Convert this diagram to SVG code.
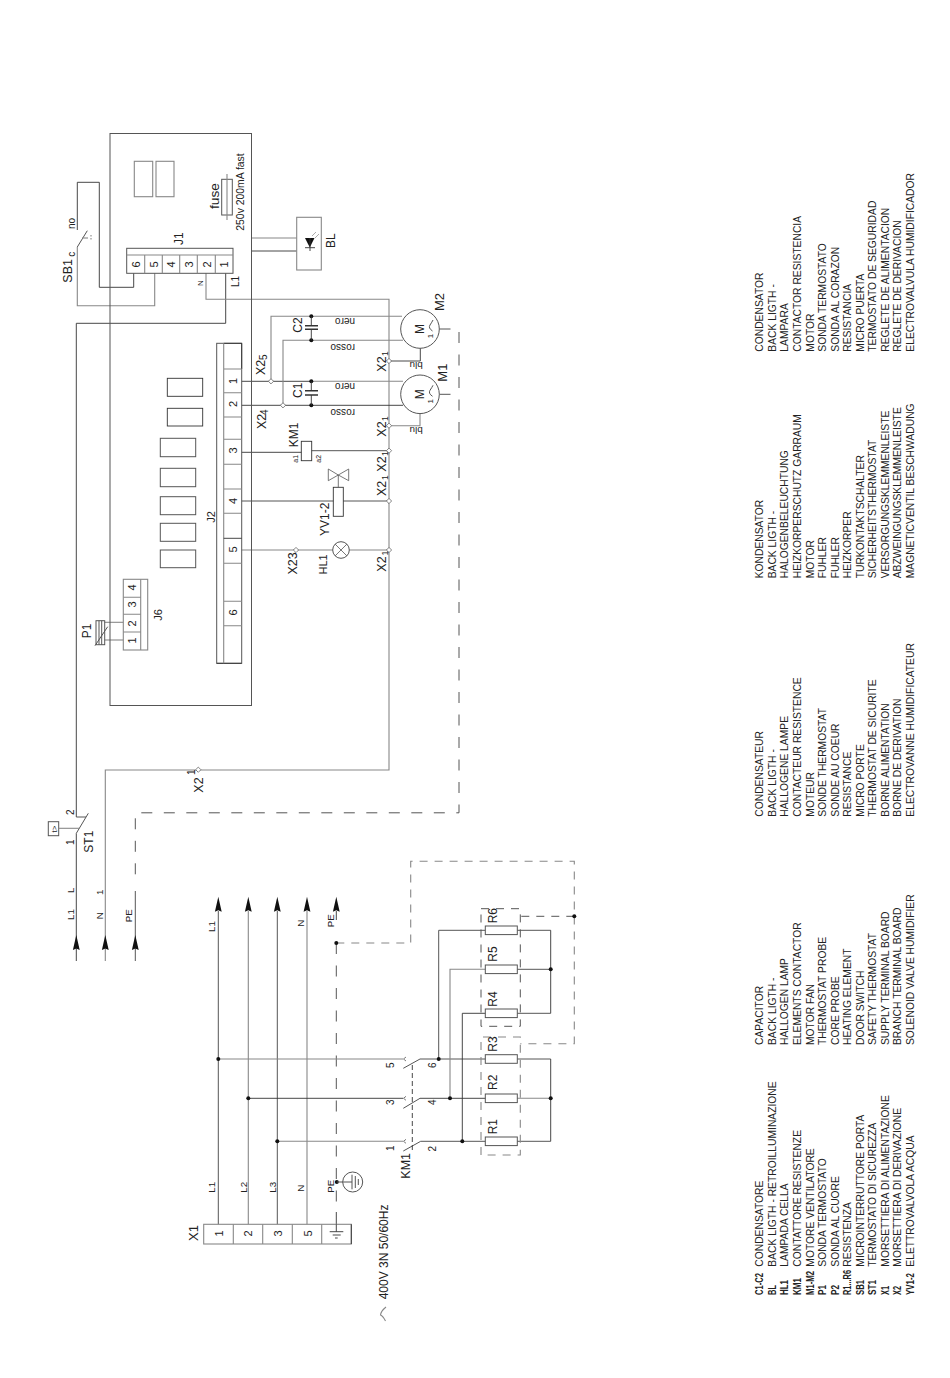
<svg xmlns="http://www.w3.org/2000/svg" width="950" height="1378" viewBox="0 0 950 1378">
<style>
text{font-family:"Liberation Sans",Arial,sans-serif;fill:#222}
.t7{font-size:7px}.t8{font-size:8px}.t85{font-size:8.5px}.t9{font-size:10px}.t95{font-size:9.8px}.t10{font-size:10px}.t11{font-size:11px}.t12{font-size:12px}.t125{font-size:12.5px}.t13{font-size:13px}
.lg{font-size:10.3px;fill:#333}.b{font-size:10px;font-weight:bold;fill:#111}
path,rect,circle,line,polyline{fill:none;stroke:#555;stroke-width:1}
.d{stroke:#333;stroke-width:.9}.g{stroke:#888;stroke-width:1.1}
.dash{stroke-dasharray:11 11.5}.ds{stroke-dasharray:8 7}
.dot{fill:#111;stroke:none}.tip{fill:#111;stroke:none}.hx{fill:#fff;stroke:#666;stroke-width:.8}
</style>
<defs>
<path id="arrow" class="tip" d="M0 0L3.4 15L0 13.5L-3.4 15Z"/>
<path id="hub" class="hx" d="M0 -2.6L2.6 0L0 2.6L-2.6 0Z"/>
<circle id="dt" class="dot" r="2"/>
</defs>

<g id="connectors">
<path class="d" d="M133.7 273.3V287.3H99.3V182.3H77.3V230"/>
<path class="g" d="M77.3 247V305.7H154.7V273.3"/>
<path class="d" d="M225.7 273.3V323.3H76.3V817"/>
<path class="d" d="M76.3 833.3V961"/>
<path class="g" d="M206 273.3V299.3H389V770H105.3V961"/>
<path class="g" d="M251 238H296.7"/>
<path class="d" d="M251 251H296.7"/>
<path class="d" d="M241.7 381.3H311"/><path class="g" d="M311 381.3H403"/>
<path class="d" d="M241.7 405.3H403"/>
<path class="g" d="M271 381.3V316.3H402"/>
<path class="g" d="M283 405.3V340.3H403"/>
<path class="d" d="M389 361H420.3V348.3"/>
<path class="g" d="M389 425.7H420V413.7"/>
<path class="d" d="M241.7 452.3H301.3"/>
<path d="M311.7 450.7H389"/>
<path d="M241.7 501H333.3"/><path d="M343.3 501H389"/>
<path class="g" d="M241.7 550H332.7"/><path class="g" d="M349.3 550H389"/>
<path class="g" d="M104.7 622.3H123.3"/><path class="g" d="M104.7 640H123.3"/>
<path class="dash" d="M439.5 329H459V812.8H135.3V880"/>
<path class="dash" d="M439.5 394.3H459"/>
<path d="M135.3 891V961"/>
<path d="M218.3 911V1224.3"/><path class="g" d="M248.3 911V1224.3"/><path d="M277.3 911V1224.3"/><path class="g" d="M307 911V1224.3"/>
<path class="d" d="M336.3 911V920"/><path class="dash" d="M336.3 943V1212"/><path class="d" d="M336.3 1212V1224.3"/>
<path class="g ds" d="M336.3 943H410.7V861.3H574.3V1043.7H520.3"/>
<path class="ds" d="M574.3 916.3H520.3"/>
<path class="g" d="M218.3 1059H403"/>
<path class="d" d="M248.3 1098.3H403"/>
<path class="g" d="M277.3 1141.3H403"/>
<path d="M420 1059H485.3"/><path class="d" d="M420 1098.3H485.3"/><path d="M420.7 1141.3H485.3"/>
<path d="M438.7 1059V930.3H485.3"/>
<path class="g" d="M450 1098.3V969.3H485.3"/>
<path class="d" d="M462.3 1141.3V1013.3H485.3"/>
<path d="M517.3 930.3H550.7"/><path d="M517.3 969.3H550.7"/><path d="M517.3 1013.3H550.7"/>
<path d="M517.3 1059H550.7"/><path class="g" d="M517.3 1098.3H550.7"/><path d="M517.3 1141.3H550.7"/>
<path class="d" d="M550.7 930.3V1013.3"/><path class="d" d="M550.7 1059V1141.3"/>
<use href="#hub" x="271" y="381.3"/><use href="#hub" x="283" y="405.3"/>
<use href="#hub" x="389" y="361"/><use href="#hub" x="389" y="425.7"/><use href="#hub" x="389" y="450.7"/><use href="#hub" x="389" y="501"/><use href="#hub" x="389" y="550"/>
<use href="#hub" x="296" y="550"/><use href="#hub" x="198.3" y="769.7"/>
<use href="#dt" x="311.3" y="316.3"/><use href="#dt" x="311.3" y="340.3"/><use href="#dt" x="311.3" y="381.3"/><use href="#dt" x="311.3" y="405.3"/>
<use href="#dt" x="218.3" y="1059"/><use href="#dt" x="248.3" y="1098.3"/><use href="#dt" x="277.3" y="1141.3"/>
<use href="#dt" x="438.7" y="1059"/><use href="#dt" x="450" y="1098.3"/><use href="#dt" x="462.3" y="1141.3"/>
<use href="#dt" x="550.7" y="969.3"/><use href="#dt" x="550.7" y="1098.3"/>
<use href="#dt" x="336.3" y="943"/><use href="#dt" x="336.8" y="1182"/><use href="#dt" x="574.3" y="916.3"/>
<use href="#arrow" x="76.3" y="935"/><use href="#arrow" x="105.3" y="935"/><use href="#arrow" x="135.3" y="935"/>
<use href="#arrow" x="218.3" y="896.7"/><use href="#arrow" x="248.3" y="896.7"/><use href="#arrow" x="277.3" y="896.7"/><use href="#arrow" x="307" y="896.7"/><use href="#arrow" x="336.3" y="896.7"/>
</g>

<g id="board">
<rect x="110" y="133.5" width="141.5" height="572"/>
<rect x="134.3" y="161.3" width="18.4" height="35.4" class="g"/>
<rect x="156" y="161.3" width="18" height="35.4" class="g"/>
<rect x="167.3" y="378.3" width="35.4" height="18" class="d"/><rect x="167.3" y="408.3" width="35.4" height="17.7" class="d"/>
<rect x="160.3" y="438.3" width="35.4" height="18.4"/><rect x="160.3" y="468.3" width="35.4" height="18.4"/><rect x="160.3" y="496.7" width="35.4" height="18"/><rect x="160.3" y="523.3" width="35.4" height="18"/><rect x="160.3" y="550" width="35.4" height="17.7"/>
</g>

<g id="fuse">
<rect x="221.7" y="179.3" width="10.6" height="35.7"/>
<path class="g" d="M227 174V220"/>
<text class="t13" style="font-size:13.7px" transform="translate(218.7,209) rotate(-90)">fuse</text>
<text style="font-size:10.4px" transform="translate(244,230.7) rotate(-90)">250v 200mA fast</text>
</g>

<g id="J1">
<rect x="126.7" y="248.3" width="106.3" height="25"/>
<path class="g" d="M126.7 255H233M144.7 255V273.3M162.3 255V273.3M179.7 255V273.3M197.3 255V273.3M215.3 255V273.3"/>
<g class="t11" text-anchor="middle">
<text transform="translate(140,264.5) rotate(-90)">6</text><text transform="translate(157.5,264.5) rotate(-90)">5</text><text transform="translate(175,264.5) rotate(-90)">4</text><text transform="translate(193,264.5) rotate(-90)">3</text><text transform="translate(210.5,264.5) rotate(-90)">2</text><text transform="translate(228,264.5) rotate(-90)">1</text>
</g>
<text class="t12" transform="translate(183,245) rotate(-90)">J1</text>
<text class="t8" transform="translate(203,286) rotate(-90)">N</text>
<text class="t9" transform="translate(239,287) rotate(-90)">L1</text>
</g>

<g id="SB1">
<path d="M77.3 247L87.3 230.7"/><path class="g" d="M82 238H88"/><path class="g" style="stroke-dasharray:1.5 1.5" d="M91 235V241"/>
<text class="t125" transform="translate(71.5,282.7) rotate(-90)">SB1</text>
<text class="t9" transform="translate(74.5,256.7) rotate(-90)">c</text>
<text class="t9" transform="translate(75.3,229) rotate(-90)">no</text>
</g>

<g id="BL">
<rect x="296.7" y="217.3" width="24.6" height="52.7" class="g"/>
<path class="tip" d="M305 238H314.5L309.8 247.5Z"/>
<path class="d" d="M305 247.7H315"/><path class="d" d="M310 238V251"/>
<path class="g" style="stroke-width:.7" d="M312 236L316 232M315 238L319 234"/>
<text class="t12" transform="translate(334.5,248) rotate(-90)">BL</text>
</g>

<g id="J2">
<rect x="216.7" y="343.3" width="25" height="320"/>
<path class="d" d="M223.7 343.3H241.7V369"/>
<path class="d" d="M216.7 663.3H241.7"/>
<path class="g" d="M223.7 343.3V663.3M223.7 369H241.7M223.7 392.7H241.7M223.7 417H241.7M223.7 439.3H241.7M223.7 464.3H241.7M223.7 489H241.7M223.7 513.3H241.7M223.7 563.3H241.7M223.7 601.3H241.7M223.7 625.7H241.7"/>
<path class="d" d="M223.7 538.3H241.7"/>
<g class="t11" text-anchor="middle">
<text transform="translate(237,381) rotate(-90)">1</text><text transform="translate(237,404) rotate(-90)">2</text><text transform="translate(237,450.5) rotate(-90)">3</text><text transform="translate(237,501) rotate(-90)">4</text><text transform="translate(237,549.5) rotate(-90)">5</text><text transform="translate(237,612.5) rotate(-90)">6</text>
</g>
<text class="t11" transform="translate(215,522.7) rotate(-90)">J2</text>
</g>

<g id="J6">
<rect x="123.3" y="579.3" width="24.4" height="70.7" class="g"/>
<path class="g" d="M140.7 579.3V650M123.3 597.3H140.7M123.3 614.3H140.7M123.3 632H140.7"/>
<g class="t11" text-anchor="middle">
<text transform="translate(136,587.5) rotate(-90)">4</text><text transform="translate(136,604.5) rotate(-90)">3</text><text transform="translate(136,623.5) rotate(-90)">2</text><text transform="translate(136,640.5) rotate(-90)">1</text>
</g>
<text class="t11" transform="translate(162,620.7) rotate(-90)">J6</text>
</g>

<g id="P1">
<rect x="96" y="620.7" width="8.7" height="24"/>
<path d="M99 620.7V644.7M101.7 620.7V644.7M95 645.7L107.7 626.7"/>
<text class="t12" transform="translate(91,638.3) rotate(-90)">P1</text>
</g>

<g id="C2">
<path class="d" d="M311.3 316.3V325.7M311.3 329.3V340.3"/>
<path class="d" style="stroke-width:1.4" d="M305 325.7H318M305 329.3H318"/>
<text class="t12" transform="translate(301.7,332.7) rotate(-90)">C2</text>
</g>
<g id="C1">
<path class="d" d="M311.3 381.3V390.7M311.3 395V405.3"/>
<path class="d" style="stroke-width:1.4" d="M305 390.7H318M305 395H318"/>
<text class="t12" transform="translate(301.7,398) rotate(-90)">C1</text>
</g>

<g id="M2">
<circle cx="420" cy="329" r="19.3"/>
<text class="t12" text-anchor="middle" transform="translate(424.3,329) rotate(-90)">M</text>
<text class="t8" text-anchor="middle" transform="translate(433,336) rotate(-90)">1</text>
<path d="M432.5 331Q428 328 430 325T433 320"/>
<text class="t13" transform="translate(444,311) rotate(-90)">M2</text>
<text class="t10" transform="translate(355,317.8) rotate(180)">nero</text>
<text class="t10" transform="translate(355,344) rotate(180)">rosso</text>
<text class="t95" transform="translate(422.7,361.7) rotate(180)">blu</text>
</g>
<g id="M1">
<circle cx="420" cy="394.3" r="19.3"/>
<text class="t12" text-anchor="middle" transform="translate(424.3,394.3) rotate(-90)">M</text>
<text class="t8" text-anchor="middle" transform="translate(433,401.3) rotate(-90)">1</text>
<path d="M432.5 396.3Q428 393.3 430 390.3T433 385.3"/>
<text class="t13" transform="translate(446.7,381.7) rotate(-90)">M1</text>
<text class="t10" transform="translate(355,382.7) rotate(180)">nero</text>
<text class="t10" transform="translate(355,409) rotate(180)">rosso</text>
<text class="t95" transform="translate(422.7,426.7) rotate(180)">blu</text>
</g>

<g id="KM1-coil">
<rect x="301.3" y="441.3" width="10.4" height="19.4" class="d"/>
<text class="t12" transform="translate(298.3,447.3) rotate(-90)">KM1</text>
<text class="t7" transform="translate(298,462.7) rotate(-90)">a1</text>
<text class="t7" transform="translate(320.7,462.7) rotate(-90)">a2</text>
</g>

<g id="YV1-2">
<rect x="333.3" y="487.3" width="10" height="29" class="d"/>
<path style="stroke-width:.8" d="M338.3 475V487.3M338.3 475L328.3 469V480.7ZM338.3 475L348.7 469V480.7Z"/>
<text class="t12" transform="translate(329.3,536) rotate(-90)">YV1-2</text>
</g>

<g id="HL1">
<circle cx="341" cy="550" r="8.3"/>
<path style="stroke-width:.8" d="M335.1 544.1L346.9 555.9M335.1 555.9L346.9 544.1"/>
<text class="t11" transform="translate(326.7,574.5) rotate(-90)">HL1</text>
</g>

<g id="X2-labels">
<text class="t125" transform="translate(265,375) rotate(-90)">X2</text><text class="t10" transform="translate(267,360) rotate(-90)">5</text>
<text class="t125" transform="translate(266,429) rotate(-90)">X2</text><text class="t10" transform="translate(268,415) rotate(-90)">4</text>
<text class="t125" transform="translate(296.7,574.5) rotate(-90)">X23</text>
<text class="t125" transform="translate(385.5,371.7) rotate(-90)">X2</text><text class="t85" transform="translate(388,356) rotate(-90)">1</text>
<text class="t125" transform="translate(385.5,436.7) rotate(-90)">X2</text><text class="t85" transform="translate(388,421) rotate(-90)">1</text>
<text class="t125" transform="translate(385.5,471.7) rotate(-90)">X2</text><text class="t85" transform="translate(388,456) rotate(-90)">1</text>
<text class="t125" transform="translate(385.5,496) rotate(-90)">X2</text><text class="t85" transform="translate(388,480) rotate(-90)">1</text>
<text class="t125" transform="translate(385.5,571.7) rotate(-90)">X2</text><text class="t85" transform="translate(388,555.5) rotate(-90)">1</text>
<text class="t125" transform="translate(203.3,792.7) rotate(-90)">X2</text><text class="t9" transform="translate(195,775) rotate(-90)">1</text>
</g>

<g id="ST1">
<path d="M76.3 817H86M76.3 833.3L88.3 813.3"/>
<rect x="48.3" y="821.7" width="10.4" height="14"/>
<path class="g" d="M58.7 828.3H80"/>
<text class="t8" transform="translate(56.5,832.5) rotate(-90)">t&gt;</text>
<text class="t12" transform="translate(93.3,852.7) rotate(-90)">ST1</text>
<text class="t9" transform="translate(73.7,815) rotate(-90)">2</text>
<text class="t9" transform="translate(73.7,845) rotate(-90)">1</text>
</g>

<g id="feed-labels" class="t95">
<text transform="translate(73.7,893) rotate(-90)">L</text>
<text transform="translate(73.7,920) rotate(-90)">L1</text>
<text transform="translate(102.7,895) rotate(-90)">1</text>
<text transform="translate(102.7,919.3) rotate(-90)">N</text>
<text transform="translate(131.7,922.3) rotate(-90)">PE</text>
<text transform="translate(215.3,932) rotate(-90)">L1</text>
<text transform="translate(304,926.7) rotate(-90)">N</text>
<text transform="translate(333.7,927.3) rotate(-90)">PE</text>
<text transform="translate(215,1192.7) rotate(-90)">L1</text>
<text transform="translate(246.7,1192.7) rotate(-90)">L2</text>
<text transform="translate(276,1192.7) rotate(-90)">L3</text>
<text transform="translate(304,1191.7) rotate(-90)">N</text>
<text transform="translate(334,1192.7) rotate(-90)">PE</text>
</g>

<g id="KM1">
<path d="M403.3 1068.3L420 1059M403.3 1108.3L420 1098.3M403.3 1151L420.7 1141.3"/>
<path class="d" style="stroke-dasharray:5 3" d="M412.3 1065V1150"/>
<path style="stroke-width:.8" d="M406 1057L403.5 1059L406 1061M406 1096.3L403.5 1098.3L406 1100.3M406 1139.3L403.5 1141.3L406 1143.3"/>
<g class="t9">
<text transform="translate(394,1068) rotate(-90)">5</text><text transform="translate(394,1105) rotate(-90)">3</text><text transform="translate(394,1151) rotate(-90)">1</text>
<text transform="translate(436,1068) rotate(-90)">6</text><text transform="translate(436,1105) rotate(-90)">4</text><text transform="translate(436,1151.5) rotate(-90)">2</text>
</g>
<text class="t125" transform="translate(410,1178.7) rotate(-90)">KM1</text>
</g>

<g id="R-upper">
<path class="ds" d="M481 908.7H520.3V1026.3H481V908.7"/>
<rect x="485.3" y="926" width="32" height="8.6"/><rect x="485.3" y="965" width="32" height="8.6"/><rect x="485.3" y="1009" width="32" height="8.6"/>
<text class="t12" transform="translate(496.7,923.3) rotate(-90)">R6</text>
<text class="t12" transform="translate(496.7,961.7) rotate(-90)">R5</text>
<text class="t12" transform="translate(496.7,1006.7) rotate(-90)">R4</text>
</g>
<g id="R-lower">
<path class="g ds" d="M481 1155V1037H520.3V1155H481"/>
<rect x="485.3" y="1054.7" width="32" height="8.6"/><rect x="485.3" y="1094" width="32" height="8.6"/><rect x="485.3" y="1137" width="32" height="8.6"/>
<text class="t12" transform="translate(496.7,1051.7) rotate(-90)">R3</text>
<text class="t12" transform="translate(496.7,1090) rotate(-90)">R2</text>
<text class="t12" transform="translate(496.7,1134.3) rotate(-90)">R1</text>
</g>

<g id="earth">
<circle cx="352.7" cy="1182" r="10"/>
<path d="M336.8 1182H352M352 1174.7V1189.3M355.3 1176V1188M358.3 1179V1185"/>
</g>

<g id="X1">
<rect x="203.7" y="1224.3" width="147.6" height="19.7" class="g"/>
<path class="g" d="M233.3 1224.3V1244M262.7 1224.3V1244M292.3 1224.3V1244M321.7 1224.3V1244"/>
<path class="d" d="M351.3 1224.3V1244M336.3 1224.3V1231.7M329.7 1231.7H343.3M332.7 1235H340.7M335 1238H337.7"/>
<g class="t11" text-anchor="middle">
<text transform="translate(223,1233.5) rotate(-90)">1</text><text transform="translate(252,1233.5) rotate(-90)">2</text><text transform="translate(282,1233.5) rotate(-90)">3</text><text transform="translate(311.5,1233.5) rotate(-90)">5</text>
</g>
<text class="t13" transform="translate(197.7,1241) rotate(-90)">X1</text>
<text class="t12" transform="translate(387.7,1299.3) rotate(-90)">400V 3N 50/60Hz</text>
<path class="g" d="M386 1307Q381 1311 380.5 1315Q383 1316 385.5 1321"/>
</g>

<g id="legend-codes" class="b">
<text textLength="22" lengthAdjust="spacingAndGlyphs" transform="translate(763.3,1295) rotate(-90)">C1-C2</text>
<text textLength="10" lengthAdjust="spacingAndGlyphs" transform="translate(775.9,1295) rotate(-90)">BL</text>
<text textLength="15" lengthAdjust="spacingAndGlyphs" transform="translate(788.4,1295) rotate(-90)">HL1</text>
<text textLength="17" lengthAdjust="spacingAndGlyphs" transform="translate(801,1295) rotate(-90)">KM1</text>
<text textLength="24" lengthAdjust="spacingAndGlyphs" transform="translate(813.5,1295) rotate(-90)">M1-M2</text>
<text textLength="10" lengthAdjust="spacingAndGlyphs" transform="translate(826.1,1295) rotate(-90)">P1</text>
<text textLength="10" lengthAdjust="spacingAndGlyphs" transform="translate(838.6,1295) rotate(-90)">P2</text>
<text textLength="25" lengthAdjust="spacingAndGlyphs" transform="translate(851.2,1295) rotate(-90)">R1...R6</text>
<text textLength="15" lengthAdjust="spacingAndGlyphs" transform="translate(863.7,1295) rotate(-90)">SB1</text>
<text textLength="15" lengthAdjust="spacingAndGlyphs" transform="translate(876.3,1295) rotate(-90)">ST1</text>
<text textLength="9" lengthAdjust="spacingAndGlyphs" transform="translate(888.8,1295) rotate(-90)">X1</text>
<text textLength="9" lengthAdjust="spacingAndGlyphs" transform="translate(901.4,1295) rotate(-90)">X2</text>
<text textLength="22" lengthAdjust="spacingAndGlyphs" transform="translate(914,1295) rotate(-90)">YV1-2</text>
</g>
<g id="legend-it" class="lg">
<text transform="translate(763.3,1266.7) rotate(-90)">CONDENSATORE</text>
<text transform="translate(775.9,1266.7) rotate(-90)">BACK LIGTH - RETROILLUMINAZIONE</text>
<text transform="translate(788.4,1266.7) rotate(-90)">LAMPADA CELLA</text>
<text transform="translate(801,1266.7) rotate(-90)">CONTATTORE RESISTENZE</text>
<text transform="translate(813.5,1266.7) rotate(-90)">MOTORE VENTILATORE</text>
<text transform="translate(826.1,1266.7) rotate(-90)">SONDA TERMOSTATO</text>
<text transform="translate(838.6,1266.7) rotate(-90)">SONDA AL CUORE</text>
<text transform="translate(851.2,1266.7) rotate(-90)">RESISTENZA</text>
<text transform="translate(863.7,1266.7) rotate(-90)">MICROINTERRUTTORE PORTA</text>
<text transform="translate(876.3,1266.7) rotate(-90)">TERMOSTATO DI SICUREZZA</text>
<text transform="translate(888.8,1266.7) rotate(-90)">MORSETTIERA DI ALIMENTAZIONE</text>
<text transform="translate(901.4,1266.7) rotate(-90)">MORSETTIERA DI DERIVAZIONE</text>
<text transform="translate(914,1266.7) rotate(-90)">ELETTROVALVOLA ACQUA</text>
</g>
<g id="legend-en" class="lg">
<text transform="translate(763.3,1045) rotate(-90)">CAPACITOR</text>
<text transform="translate(775.9,1045) rotate(-90)">BACK LIGTH -</text>
<text transform="translate(788.4,1045) rotate(-90)">HALLOGEN LAMP</text>
<text transform="translate(801,1045) rotate(-90)">ELEMENTS CONTACTOR</text>
<text transform="translate(813.5,1045) rotate(-90)">MOTOR FAN</text>
<text transform="translate(826.1,1045) rotate(-90)">THERMOSTAT PROBE</text>
<text transform="translate(838.6,1045) rotate(-90)">CORE PROBE</text>
<text transform="translate(851.2,1045) rotate(-90)">HEATING ELEMENT</text>
<text transform="translate(863.7,1045) rotate(-90)">DOOR SWITCH</text>
<text transform="translate(876.3,1045) rotate(-90)">SAFETY THERMOSTAT</text>
<text transform="translate(888.8,1045) rotate(-90)">SUPPLY TERMINAL BOARD</text>
<text transform="translate(901.4,1045) rotate(-90)">BRANCH TERMINAL BOARD</text>
<text transform="translate(914,1045) rotate(-90)">SOLENOID VALVE HUMIDIFIER</text>
</g>
<g id="legend-fr" class="lg">
<text transform="translate(763.3,816.7) rotate(-90)">CONDENSATEUR</text>
<text transform="translate(775.9,816.7) rotate(-90)">BACK LIGTH -</text>
<text transform="translate(788.4,816.7) rotate(-90)">HALLOGENE LAMPE</text>
<text transform="translate(801,816.7) rotate(-90)">CONTACTEUR RESISTENCE</text>
<text transform="translate(813.5,816.7) rotate(-90)">MOTEUR</text>
<text transform="translate(826.1,816.7) rotate(-90)">SONDE THERMOSTAT</text>
<text transform="translate(838.6,816.7) rotate(-90)">SONDE AU COEUR</text>
<text transform="translate(851.2,816.7) rotate(-90)">RESISTANCE</text>
<text transform="translate(863.7,816.7) rotate(-90)">MICRO PORTE</text>
<text transform="translate(876.3,816.7) rotate(-90)">THERMOSTAT DE SICURITE</text>
<text transform="translate(888.8,816.7) rotate(-90)">BORNE ALIMENTATION</text>
<text transform="translate(901.4,816.7) rotate(-90)">BORNE DE DERIVATION</text>
<text transform="translate(914,816.7) rotate(-90)">ELECTROVANNE HUMIDIFICATEUR</text>
</g>
<g id="legend-de" class="lg">
<text transform="translate(763.3,578.3) rotate(-90)">KONDENSATOR</text>
<text transform="translate(775.9,578.3) rotate(-90)">BACK LIGTH -</text>
<text transform="translate(788.4,578.3) rotate(-90)">HALOGENBELEUCHTUNG</text>
<text transform="translate(801,578.3) rotate(-90)">HEIZKORPERSCHUTZ GARRAUM</text>
<text transform="translate(813.5,578.3) rotate(-90)">MOTOR</text>
<text transform="translate(826.1,578.3) rotate(-90)">FUHLER</text>
<text transform="translate(838.6,578.3) rotate(-90)">FUHLER</text>
<text transform="translate(851.2,578.3) rotate(-90)">HEIZKORPER</text>
<text transform="translate(863.7,578.3) rotate(-90)">TURKONTAKTSCHALTER</text>
<text transform="translate(876.3,578.3) rotate(-90)">SICHERHEITSTHERMOSTAT</text>
<text transform="translate(888.8,578.3) rotate(-90)">VERSORGUNGSKLEMMENLEISTE</text>
<text transform="translate(901.4,578.3) rotate(-90)">ABZWEINGUNGSKLEMMENLEISTE</text>
<text transform="translate(914,578.3) rotate(-90)">MAGNETICVENTIL BESCHWADUNG</text>
</g>
<g id="legend-es" class="lg">
<text transform="translate(763.3,351.7) rotate(-90)">CONDENSATOR</text>
<text transform="translate(775.9,351.7) rotate(-90)">BACK LIGTH -</text>
<text transform="translate(788.4,351.7) rotate(-90)">LAMPARA</text>
<text transform="translate(801,351.7) rotate(-90)">CONTACTOR RESISTENCIA</text>
<text transform="translate(813.5,351.7) rotate(-90)">MOTOR</text>
<text transform="translate(826.1,351.7) rotate(-90)">SONDA TERMOSTATO</text>
<text transform="translate(838.6,351.7) rotate(-90)">SONDA AL CORAZON</text>
<text transform="translate(851.2,351.7) rotate(-90)">RESISTANCIA</text>
<text transform="translate(863.7,351.7) rotate(-90)">MICRO PUERTA</text>
<text transform="translate(876.3,351.7) rotate(-90)">TERMOSTATO DE SEGURIDAD</text>
<text transform="translate(888.8,351.7) rotate(-90)">REGLETE DE ALIMENTACION</text>
<text transform="translate(901.4,351.7) rotate(-90)">REGLETE DE DERIVACION</text>
<text transform="translate(914,351.7) rotate(-90)">ELECTROVALVULA HUMIDIFICADOR</text>
</g>
</svg>
